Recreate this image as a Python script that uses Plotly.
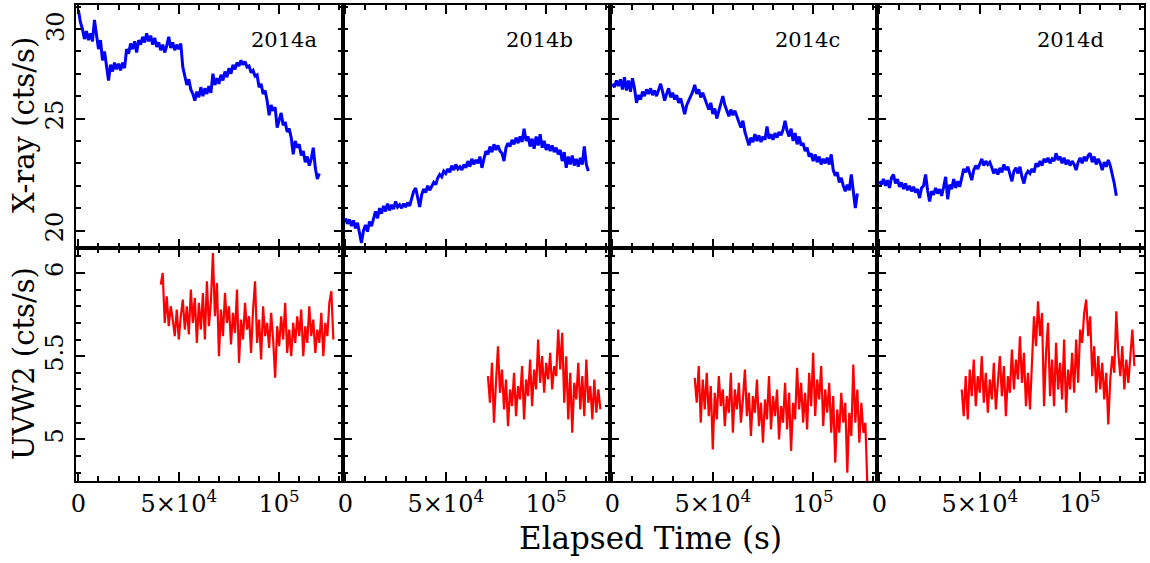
import numpy as np
import plotly.graph_objects as go

# ---------------- data ----------------
PANELS = ["2014a", "2014b", "2014c", "2014d"]
BIN = 1000  # s, light-curve bin width

XRAY_T0 = [0, 0, 0, 0]
UV_T0 = [41000, 71000, 41000, 41000]

xray_2014a = [29.85, 29.30, 29.00, 28.55, 28.90, 28.50, 28.80, 28.45, 29.40, 28.60,
              28.10, 28.50, 27.60, 28.00, 27.30, 26.70, 27.40, 27.10, 27.50, 27.20,
              27.45, 27.15, 27.50, 27.25, 28.10, 27.90, 28.35, 28.10, 28.45, 27.95,
              28.50, 28.30, 28.65, 28.40, 28.80, 28.45, 28.70, 28.30, 28.60, 28.20,
              28.40, 28.05, 28.30, 27.95, 28.25, 28.65, 28.15, 28.40, 28.05, 28.30,
              28.10, 28.35, 27.30, 26.90, 26.50, 26.75, 26.30, 26.10, 25.80, 26.20,
              25.95, 26.40, 26.00, 26.35, 26.10, 26.45, 26.15, 27.00, 26.50, 26.80,
              26.55, 26.95, 26.70, 27.10, 26.85, 27.25, 27.00, 27.40, 27.20, 27.50,
              27.35, 27.60, 27.40, 27.55, 27.30, 27.35, 27.05, 27.15, 26.90, 26.95,
              26.40, 26.55, 26.10, 26.25, 25.80, 25.15, 25.60, 25.35, 25.50, 24.60,
              25.00, 25.25, 24.70, 24.85, 24.40, 24.55, 24.15, 23.40, 24.00, 23.70,
              23.85, 23.35, 23.55, 23.05, 23.30, 22.90, 23.20, 23.70, 22.80, 22.30,
              22.55]

xray_2014b = [20.55, 20.30, 20.50, 20.20, 20.45, 20.10, 20.35, 19.85, 19.45, 20.00,
              20.25, 19.95, 20.40, 20.20, 20.60, 20.85, 20.55, 21.00, 20.75, 21.10,
              20.85, 21.20, 20.90, 21.15, 20.95, 21.30, 21.05, 21.15, 21.00, 21.20,
              21.05, 21.25, 21.10, 21.40, 21.75, 21.90, 21.50, 21.05, 21.60, 21.85,
              21.70, 22.00, 21.80, 21.95, 22.15, 22.05, 22.35, 22.50, 22.40, 22.65,
              22.55, 22.75, 22.60, 22.90, 22.70, 22.95, 22.75, 22.85, 22.70, 22.95,
              22.80, 23.10, 22.85, 23.20, 22.95, 23.15, 23.00, 23.30, 22.80, 23.20,
              23.55, 23.40, 23.75, 23.50, 23.85, 23.60, 23.80, 23.55, 23.45, 23.10,
              23.70, 23.90, 23.75, 24.05, 23.85, 24.15, 23.90, 24.20, 23.95, 24.55,
              24.00, 24.20, 23.75, 24.10, 23.65, 24.20, 23.80, 24.30, 23.70, 24.00,
              23.60, 23.85, 23.55, 23.80, 23.50, 23.70, 23.40, 23.60, 23.10, 23.50,
              22.80, 23.30, 22.95, 23.35, 22.90, 23.20, 22.85, 23.25, 22.95, 23.75,
              22.95, 22.65]

xray_2014c = [26.55, 26.40, 26.70, 26.45, 26.75, 26.30, 26.85, 26.25, 26.70, 26.20,
              26.80, 26.35, 25.70, 26.05, 25.85, 26.20, 26.00, 26.30, 26.10, 26.35,
              26.05, 26.25, 26.00, 26.30, 26.55, 26.20, 25.80, 26.10, 26.35, 25.95,
              26.15, 25.85, 26.05, 25.70, 25.90, 25.55, 25.20, 25.60, 25.80, 25.95,
              26.20, 26.50, 26.10, 26.30, 25.95, 26.15, 25.85, 25.65, 25.40, 25.70,
              25.20, 25.45, 25.00, 25.35, 25.65, 26.00, 25.60, 25.35, 25.10, 25.40,
              25.15, 25.35, 25.05, 24.85, 24.60, 24.90, 24.40, 24.10, 23.80, 24.15,
              23.95, 24.30, 24.00, 24.25, 23.95, 24.20, 24.05, 24.65, 24.10, 24.30,
              24.05, 24.35, 24.15, 24.40, 24.25, 24.50, 24.90, 24.45, 24.20, 24.55,
              24.00, 24.35, 23.85, 24.20, 23.80, 23.90, 23.55, 23.70, 23.30, 23.45,
              23.10, 23.40, 23.05, 23.30, 22.95, 23.20, 23.00, 23.25, 22.95, 23.40,
              22.70, 22.45, 22.60, 22.15, 22.35, 22.00, 21.75, 22.05, 21.80, 22.50,
              21.70, 21.00, 21.65]

xray_2014d = [22.20, 22.05, 22.30, 22.00, 22.25, 21.90, 22.35, 22.50, 22.10, 22.30,
              21.95, 22.15, 21.85, 22.10, 21.80, 22.00, 21.75, 21.95, 21.70, 21.85,
              21.45, 21.90, 22.00, 22.50, 21.80, 21.30, 21.75, 21.60, 21.90, 21.65,
              21.85, 21.55, 21.95, 22.40, 21.40, 22.05, 21.85, 22.30, 21.90, 22.20,
              21.95, 22.40, 22.75, 22.60, 22.85, 22.55, 22.25, 22.70, 22.90, 22.75,
              23.00, 23.20, 22.90, 23.10, 22.95, 23.05, 22.80, 22.55, 22.75, 22.50,
              22.80, 22.60, 22.95, 22.70, 22.85, 22.55, 22.20, 22.65, 22.80, 22.55,
              22.85, 22.40, 22.10, 22.50, 22.65, 22.55, 22.75, 22.60, 23.00, 22.85,
              23.10, 22.90, 23.20, 23.05, 23.25, 23.00, 23.20, 23.10, 23.45, 23.15,
              23.30, 23.00, 23.25, 22.95, 23.15, 22.90, 23.10, 22.95, 22.70, 23.05,
              23.25, 23.00, 23.30, 23.10, 23.35, 23.45, 23.05, 23.30, 22.95, 23.20,
              23.00, 22.70, 23.05, 22.85, 23.15, 22.90, 22.55, 22.10, 21.55]

uvw2_2014a = [5.93, 6.00, 5.70, 5.86, 5.68, 5.80, 5.72, 5.62, 5.78, 5.60,
              5.74, 5.84, 5.66, 5.80, 5.63, 5.90, 5.70, 5.85, 5.58, 5.82,
              5.66, 5.88, 5.60, 5.95, 5.68, 5.83, 6.12, 5.74, 5.94, 5.50,
              5.78, 5.62, 5.88, 5.70, 5.80, 5.57, 5.76, 5.64, 5.90, 5.46,
              5.72, 5.60, 5.82, 5.66, 5.74, 5.52, 5.78, 5.95, 5.58, 5.72,
              5.48, 5.80, 5.62, 5.70, 5.55, 5.76, 5.60, 5.37, 5.68, 5.56,
              5.74, 5.60, 5.82, 5.52, 5.66, 5.50, 5.70, 5.58, 5.74, 5.62,
              5.78, 5.50, 5.68, 5.58, 5.80, 5.62, 5.72, 5.52, 5.66, 5.58,
              5.76, 5.50, 5.70, 5.62, 5.82, 5.89, 5.60]

uvw2_2014b = [5.38, 5.22, 5.46, 5.10, 5.34, 5.56, 5.28, 5.42, 5.18, 5.36,
              5.08, 5.30, 5.20, 5.40, 5.14, 5.32, 5.24, 5.44, 5.12, 5.36,
              5.26, 5.48, 5.20, 5.42, 5.30, 5.60, 5.34, 5.50, 5.28, 5.46,
              5.36, 5.52, 5.30, 5.44, 5.38, 5.66, 5.42, 5.64, 5.22, 5.50,
              5.12, 5.40, 5.04, 5.34, 5.24, 5.46, 5.18, 5.38, 5.14, 5.48,
              5.22, 5.32, 5.12, 5.36, 5.16, 5.30, 5.18]

uvw2_2014c = [5.37, 5.22, 5.44, 5.10, 5.36, 5.18, 5.40, 5.14, 5.32, 4.94,
              5.28, 5.12, 5.38, 5.20, 5.30, 5.08, 5.26, 5.16, 5.40, 5.04,
              5.30, 5.18, 5.34, 5.10, 5.24, 5.42, 5.14, 5.28, 5.02, 5.26,
              5.16, 5.36, 5.08, 5.22, 4.98, 5.24, 5.12, 5.38, 5.06, 5.26,
              5.14, 5.30, 5.00, 5.20, 5.10, 5.34, 5.06, 5.28, 4.93, 5.22,
              5.12, 5.43, 5.18, 5.34, 5.10, 5.28, 5.06, 5.40, 5.20, 5.52,
              5.14, 5.36, 5.24, 5.44, 5.08, 5.30, 5.16, 5.34, 5.04, 5.26,
              4.86, 5.18, 5.04, 5.28, 5.10, 5.22, 4.80, 5.16, 5.02, 5.45,
              5.10, 5.30, 4.98, 5.22, 5.04, 5.10, 4.72]

uvw2_2014d = [5.30, 5.14, 5.38, 5.12, 5.42, 5.26, 5.48, 5.20, 5.38, 5.28,
              5.50, 5.22, 5.40, 5.16, 5.36, 5.24, 5.46, 5.18, 5.34, 5.50,
              5.26, 5.44, 5.14, 5.38, 5.28, 5.54, 5.30, 5.48, 5.36, 5.62,
              5.34, 5.52, 5.20, 5.40, 5.18, 5.44, 5.74, 5.56, 5.83, 5.62,
              5.76, 5.20, 5.52, 5.70, 5.26, 5.48, 5.20, 5.58, 5.30, 5.46,
              5.24, 5.60, 5.16, 5.42, 5.30, 5.52, 5.28, 5.60, 5.34, 5.66,
              5.58, 5.76, 5.84, 5.62, 5.74, 5.38, 5.56, 5.28, 5.50, 5.30,
              5.46, 5.24, 5.40, 5.09, 5.36, 5.50, 5.40, 5.77, 5.52, 5.38,
              5.56, 5.30, 5.48, 5.34, 5.52, 5.66, 5.44]

XRAY = [xray_2014a, xray_2014b, xray_2014c, xray_2014d]
UVW2 = [uvw2_2014a, uvw2_2014b, uvw2_2014c, uvw2_2014d]

X_TICKVALS = [0, 50000, 100000]
X_TICKTEXT = ["0", "5×10<sup>4</sup>", "10<sup>5</sup>"]
XRAY_TICKVALS = [20, 25]
XRAY_TICKTEXT = ["20", "25"]
XRAY_TOP_LABEL = "30"
UV_TICKVALS = [5, 5.5, 6]
UV_TICKTEXT = ["5", "5.5", "6"]

# ---------------- layout geometry ----------------
W, H = 1150, 563
LEFT, RIGHT = 76, 1144
TOP, MID, BOT = 5, 248, 481
FONT = "DejaVu Serif"
colw = (RIGHT - LEFT) / 4

XRANGE = [-1200, 131800]
XRAY_RANGE = [19.22, 30.07]
UV_RANGE = [4.75, 6.15]


def ax_id(idx):
    return "" if idx == 1 else str(idx)


fig = go.Figure()

common = dict(showline=True, linewidth=2, linecolor="black", mirror="allticks",
              ticks="inside", ticklen=9, tickwidth=2, tickcolor="black",
              showgrid=False, zeroline=False, automargin=False,
              tickfont=dict(family=FONT, size=24, color="black"))

layout = {}
for i in range(4):
    x0 = LEFT + i * colw
    x1 = x0 + colw
    dom_x = [x0 / W, x1 / W]
    top_id = i + 1
    bot_id = i + 5
    for idx, row in ((top_id, "top"), (bot_id, "bot")):
        s = ax_id(idx)
        dom_y = [1 - MID / H, 1 - TOP / H] if row == "top" else [1 - BOT / H, 1 - MID / H]
        xcfg = dict(common, domain=dom_x, anchor="y" + s, range=XRANGE,
                    tickmode="array", tickvals=X_TICKVALS,
                    showticklabels=(row == "bot"),
                    minor=dict(tick0=0, dtick=10000, ticks="inside", ticklen=5,
                               tickwidth=2, tickcolor="black", showgrid=False))
        if row == "bot":
            xcfg["ticktext"] = X_TICKTEXT
        layout["xaxis" + s] = xcfg
        if row == "top":
            ycfg = dict(range=XRAY_RANGE, tickmode="array", tickvals=XRAY_TICKVALS,
                        minor=dict(tick0=0, dtick=1, ticks="inside", ticklen=5,
                                   tickwidth=2, tickcolor="black", showgrid=False))
            if i == 0:
                ycfg["ticktext"] = XRAY_TICKTEXT
        else:
            ycfg = dict(range=UV_RANGE, tickmode="array", tickvals=UV_TICKVALS,
                        minor=dict(tick0=0, dtick=0.1, ticks="inside", ticklen=5,
                                   tickwidth=2, tickcolor="black", showgrid=False))
            if i == 0:
                ycfg["ticktext"] = UV_TICKTEXT
        layout["yaxis" + s] = dict(common, domain=dom_y, anchor="x" + s, tickangle=-90,
                                   ticklabelstandoff=1,
                                   showticklabels=(i == 0), **ycfg)

    tx = XRAY_T0[i] + BIN * np.arange(len(XRAY[i]))
    fig.add_trace(go.Scatter(x=tx, y=XRAY[i], mode="lines",
                             line=dict(color="#0000FF", width=3),
                             xaxis="x" + ax_id(top_id), yaxis="y" + ax_id(top_id),
                             showlegend=False))
    tu = UV_T0[i] + BIN * np.arange(len(UVW2[i]))
    fig.add_trace(go.Scatter(x=tu, y=UVW2[i], mode="lines",
                             line=dict(color="#FF0000", width=2.2),
                             xaxis="x" + ax_id(bot_id), yaxis="y" + ax_id(bot_id),
                             showlegend=False))

annotations = []
label_shift = [-24, -35, -35, -38]
for i, name in enumerate(PANELS):
    annotations.append(dict(text=name, xref="x" + ax_id(i + 1) + " domain", yref="paper",
                            x=1, xshift=label_shift[i], xanchor="right",
                            y=1 - 40 / H, yanchor="middle", showarrow=False,
                            font=dict(family=FONT, size=21, color="black")))
# the top "30" tick label sits a little lower, inside the frame
annotations.append(dict(text=XRAY_TOP_LABEL, xref="paper", yref="paper", x=56 / W, y=1 - 27 / H,
                        xanchor="center", yanchor="middle", textangle=-90, showarrow=False,
                        font=dict(family=FONT, size=24, color="black")))
annotations.append(dict(text="X-ray (cts/s)", xref="paper", yref="paper",
                        x=24 / W, y=1 - 125 / H, xanchor="center", yanchor="middle",
                        textangle=-90, showarrow=False,
                        font=dict(family=FONT, size=29, color="black")))
annotations.append(dict(text="UVW2 (cts/s)", xref="paper", yref="paper",
                        x=24 / W, y=1 - 364 / H, xanchor="center", yanchor="middle",
                        textangle=-90, showarrow=False,
                        font=dict(family=FONT, size=29, color="black")))
annotations.append(dict(text="Elapsed Time (s)", xref="paper", yref="paper",
                        x=650 / W, y=1 - 538 / H, xanchor="center", yanchor="middle",
                        showarrow=False, font=dict(family=FONT, size=31, color="black")))

fig.update_layout(width=W, height=H, margin=dict(l=0, r=0, t=0, b=0),
                  paper_bgcolor="white", plot_bgcolor="white",
                  annotations=annotations, **layout)

fig.write_html("out.html")
